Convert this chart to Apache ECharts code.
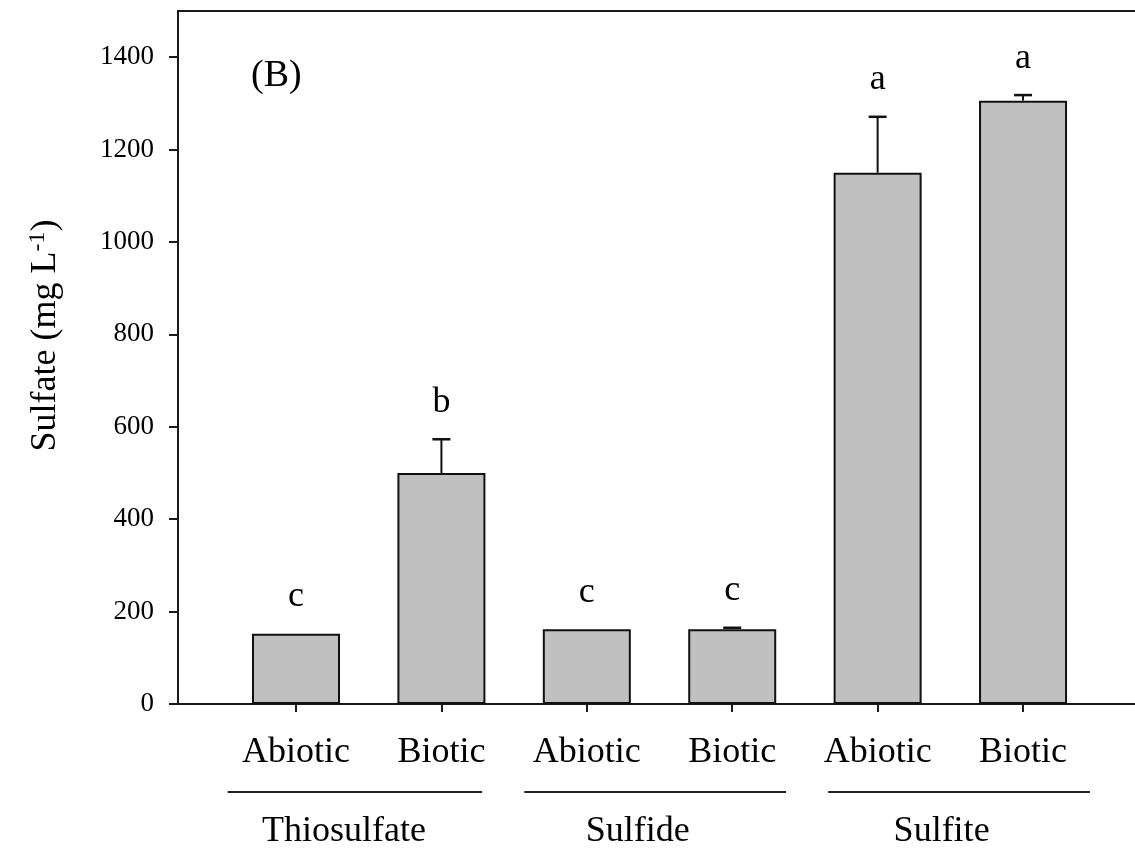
<!DOCTYPE html>
<html>
<head>
<meta charset="utf-8">
<script src="https://cdn.jsdelivr.net/npm/echarts@6/dist/echarts.min.js"></script>
<style>html,body{margin:0;padding:0;background:#fff}#c{width:1135px;height:851px}</style>
</head>
<body>
<div id="c"></div>
<script>
// ---- data ----
var treatments = ['Abiotic', 'Biotic', 'Abiotic', 'Biotic', 'Abiotic', 'Biotic'];
var xPos = [0, 1, 2, 3, 4, 5];
var sulfate = [152, 500, 162, 162, 1150, 1306];
var sulfateErr = [0, 73, 0, 3, 121, 12];
var sigLetters = ['c', 'b', 'c', 'c', 'a', 'a'];
var groups = ['Thiosulfate', 'Sulfide', 'Sulfite'];
var groupLabelPos = [0.33, 2.35, 4.44];
var groupStart = [-0.47, 1.57, 3.66];
var groupEnd = [1.28, 3.37, 5.46];
var yTicks = [0, 200, 400, 600, 800, 1000, 1200, 1400];

var FONT = '"Liberation Serif", "Times New Roman", serif';
var chart = echarts.init(document.getElementById('c'), null, {renderer: 'canvas'});

var barData = xPos.map(function (x, i) { return [x, sulfate[i]]; });
var errData = xPos.map(function (x, i) { return [x, sulfate[i], sulfateErr[i], i]; });

var XMIN = -0.8115, XMAX = 5.77;

var option = {
  backgroundColor: '#ffffff',
  animation: false,
  title: {
    text: '(B)', left: 246, top: 52,
    textStyle: {fontFamily: FONT, fontSize: 38, fontWeight: 'normal', color: '#000'}
  },
  grid: {left: 178, top: 11, right: 0, bottom: 147, containLabel: false},
  xAxis: [
    {
      type: 'value', min: XMIN, max: XMAX, position: 'bottom',
      splitLine: {show: false},
      axisLine: {show: true, onZero: false, lineStyle: {color: '#1a1a1a', width: 2}},
      axisTick: {show: true, customValues: xPos, length: 8, lineStyle: {color: '#1a1a1a', width: 2}},
      axisLabel: {
        show: true, customValues: xPos, margin: 31,
        formatter: function (v) { return treatments[Math.round(v)]; },
        fontFamily: FONT, fontSize: 36, color: '#000'
      }
    },
    {
      type: 'value', min: XMIN, max: XMAX, position: 'top',
      splitLine: {show: false},
      axisLine: {show: true, onZero: false, lineStyle: {color: '#1a1a1a', width: 2}},
      axisTick: {show: false}, axisLabel: {show: false}
    },
    {
      type: 'value', min: XMIN, max: XMAX, position: 'bottom', offset: 84,
      splitLine: {show: false},
      axisLine: {show: false}, axisTick: {show: false},
      axisLabel: {
        show: true, customValues: groupLabelPos, margin: 26,
        formatter: function (v) {
          var idx = groupLabelPos.indexOf(v);
          return idx >= 0 ? groups[idx] : '';
        },
        fontFamily: FONT, fontSize: 36, color: '#000'
      }
    }
  ],
  yAxis: [{
    type: 'value', min: 0, max: 1500,
    name: 'Sulfate (mg L{sup|-1})',
    nameLocation: 'middle', nameGap: 112, nameRotate: 90,
    nameTextStyle: {
      fontFamily: FONT, fontSize: 36, color: '#000', padding: [0, 0, 0, 44],
      rich: {sup: {fontFamily: FONT, fontSize: 24, color: '#000', verticalAlign: 'top', padding: [0, 0, 16, 0]}}
    },
    splitLine: {show: false},
    axisLine: {show: true, onZero: false, lineStyle: {color: '#1a1a1a', width: 2}},
    axisTick: {show: true, customValues: yTicks, length: 9, lineStyle: {color: '#1a1a1a', width: 2}},
    axisLabel: {
      show: true, customValues: yTicks, margin: 24,
      formatter: function (v) { return String(v); },
      fontFamily: FONT, fontSize: 27, color: '#000'
    }
  }],
  series: [
    {
      type: 'bar', xAxisIndex: 0, yAxisIndex: 0,
      data: barData, barWidth: 88,
      itemStyle: {color: '#c0c0c0', borderColor: '#111', borderWidth: 2}
    },
    {
      type: 'custom', xAxisIndex: 0, yAxisIndex: 0,
      data: errData,
      z: 5,
      renderItem: function (params, api) {
        var x = api.value(0), m = api.value(1), e = api.value(2), idx = api.value(3);
        var base = api.coord([x, m]);
        var top = api.coord([x, m + e]);
        var children = [];
        if (e > 0) {
          children.push({type: 'line', shape: {x1: base[0], y1: base[1], x2: top[0], y2: top[1]},
            style: {stroke: '#111', lineWidth: 2}});
          children.push({type: 'line', shape: {x1: top[0] - 9, y1: top[1], x2: top[0] + 9, y2: top[1]},
            style: {stroke: '#111', lineWidth: 2.5}});
        }
        children.push({type: 'text', x: top[0], y: top[1] - 37,
          style: {text: sigLetters[idx], fontFamily: FONT, fontSize: 36, fill: '#000',
            align: 'center', verticalAlign: 'middle'}});
        return {type: 'group', children: children};
      }
    }
  ]
};
chart.setOption(option);

// group underlines placed through the axis scale
var baseY = chart.convertToPixel({yAxisIndex: 0}, 0);
var lines = groups.map(function (g, i) {
  var x1 = chart.convertToPixel({xAxisIndex: 0}, groupStart[i]);
  var x2 = chart.convertToPixel({xAxisIndex: 0}, groupEnd[i]);
  return {type: 'line', shape: {x1: x1, y1: baseY + 88, x2: x2, y2: baseY + 88},
    style: {stroke: '#222', lineWidth: 2}};
});
chart.setOption({graphic: lines});
</script>
</body>
</html>
